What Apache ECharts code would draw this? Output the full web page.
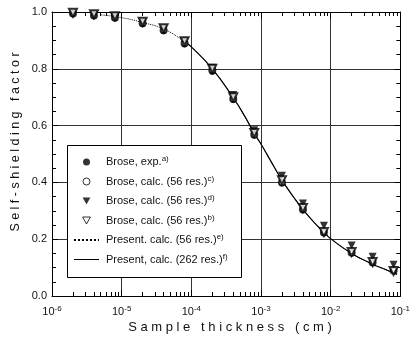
<!DOCTYPE html>
<html>
<head>
<meta charset="utf-8">
<script src="https://cdn.jsdelivr.net/npm/echarts@6/dist/echarts.min.js"></script>
<style>
  html, body { margin: 0; padding: 0; background: #fff; }
  #chart { width: 413px; height: 349px; }
</style>
</head>
<body>
<div id="chart"></div>
<script>
// sample thickness (cm) of the Brose points
var thickness = [2e-6, 4e-6, 8e-6, 2e-5, 4e-5, 8e-5, 2e-4, 4e-4, 8e-4, 2e-3, 4e-3, 8e-3, 2e-2, 4e-2, 8e-2];
var broseExp   = [0.993, 0.986, 0.978, 0.957, 0.932, 0.886, 0.789, 0.690, 0.565, 0.396, 0.302, 0.222, 0.152, 0.116, 0.090];
var broseCalcC = [0.995, 0.988, 0.980, 0.960, 0.936, 0.890, 0.795, 0.694, 0.568, 0.400, 0.305, 0.224, 0.152, 0.118, 0.090];
var broseCalcD = [0.996, 0.990, 0.984, 0.965, 0.942, 0.898, 0.804, 0.708, 0.584, 0.423, 0.326, 0.247, 0.178, 0.138, 0.110];
var broseCalcB = [0.997, 0.992, 0.985, 0.966, 0.943, 0.897, 0.800, 0.700, 0.574, 0.408, 0.310, 0.225, 0.155, 0.120, 0.088];

// present calculation curves
var curveX56 = [5e-6, 1e-5, 2e-5, 4e-5, 8e-5, 1e-4, 2e-4, 4e-4, 6e-4, 8e-4, 1e-3, 1.5e-3, 2e-3, 3e-3, 4e-3, 6e-3, 8e-3, 1e-2, 2e-2, 4e-2, 6e-2, 9e-2];
var curve56  = [0.990, 0.980, 0.963, 0.940, 0.896, 0.877, 0.800, 0.698, 0.628, 0.572, 0.535, 0.460, 0.408, 0.345, 0.305, 0.255, 0.225, 0.202, 0.150, 0.112, 0.094, 0.076];
var curveX262 = [8e-5, 1e-4, 2e-4, 4e-4, 6e-4, 8e-4, 1e-3, 1.5e-3, 2e-3, 3e-3, 4e-3, 6e-3, 8e-3, 1e-2, 2e-2, 4e-2, 6e-2, 9e-2];
var curve262  = [0.896, 0.877, 0.800, 0.698, 0.628, 0.572, 0.535, 0.460, 0.408, 0.345, 0.305, 0.255, 0.225, 0.202, 0.150, 0.112, 0.094, 0.076];

var legendText = ['Brose, exp.', 'Brose, calc. (56 res.)', 'Brose, calc. (56 res.)', 'Brose, calc. (56 res.)',
                  'Present. calc. (56 res.)', 'Present, calc. (262 res.)'];
var legendNote = ['a)', 'c)', 'd)', 'b)', 'e)', 'f)'];

var minorX = [];
for (var e = -6; e < -1; e++) {
  for (var m = 2; m <= 9; m++) minorX.push(m * Math.pow(10, e));
}

var FONT = '"Liberation Sans", Arial, sans-serif';
var DOWN_TRI = 'path://M0,0L10,0L5,9Z';
var names = legendText.map(function (t, i) { return t + ' ' + legendNote[i]; });

function pairs(xs, ys) {
  return xs.map(function (x, i) { return [x, ys[i]]; });
}

function spaced(s) {
  return s.split('').join(' ');
}

var chart = echarts.init(document.getElementById('chart'));

var baseX = {
  type: 'log', logBase: 10, min: 1e-6, max: 1e-1, splitNumber: 5,
  gridIndex: 0
};

var noDot = { color: 'rgba(0,0,0,0)', borderColor: 'rgba(0,0,0,0)', borderWidth: 0 };
var hollow = { color: '#fff', borderColor: '#000', borderWidth: 1 };

chart.setOption({
  animation: false,
  textStyle: { fontFamily: FONT },
  grid: { left: 52, right: 6, top: 12, bottom: 53 },
  xAxis: [
    Object.assign({}, baseX, {
      position: 'bottom',
      axisLine: { lineStyle: { color: '#000', width: 1 } },
      axisTick: { inside: true, length: 6, lineStyle: { color: '#000' } },
      splitLine: { show: true, lineStyle: { color: '#333', width: 1 } },
      axisLabel: {
        margin: 9,
        color: '#111',
        formatter: function (v) {
          return '{b|10}{s|' + Math.round(Math.log10(v)) + '}';
        },
        rich: {
          b: { fontSize: 11, fontFamily: FONT, color: '#111' },
          s: { fontSize: 8, fontFamily: FONT, color: '#111', padding: [0, 0, 6, 0] }
        }
      }
    }),
    Object.assign({}, baseX, {
      position: 'bottom',
      axisLine: { show: false },
      axisTick: { inside: true, length: 4, customValues: minorX, lineStyle: { color: '#000' } },
      axisLabel: { show: false },
      splitLine: { show: false }
    }),
    Object.assign({}, baseX, {
      position: 'top',
      axisLine: { lineStyle: { color: '#000', width: 1 } },
      axisTick: { inside: true, length: 6, lineStyle: { color: '#000' } },
      axisLabel: { show: false },
      splitLine: { show: false }
    }),
    Object.assign({}, baseX, {
      position: 'top',
      axisLine: { show: false },
      axisTick: { inside: true, length: 4, customValues: minorX, lineStyle: { color: '#000' } },
      axisLabel: { show: false },
      splitLine: { show: false }
    })
  ],
  yAxis: [
    {
      type: 'value', min: 0, max: 1, interval: 0.2, position: 'left',
      axisLine: { show: true, lineStyle: { color: '#000', width: 1 } },
      axisTick: { inside: true, length: 6, lineStyle: { color: '#000' } },
      minorTick: { show: true, splitNumber: 4, length: 4, lineStyle: { color: '#000' } },
      splitLine: { show: true, lineStyle: { color: '#333', width: 1 } },
      axisLabel: {
        margin: 5, fontSize: 11, color: '#111',
        formatter: function (v) { return v.toFixed(1); }
      }
    },
    {
      type: 'value', min: 0, max: 1, interval: 0.2, position: 'right',
      axisLine: { show: true, lineStyle: { color: '#000', width: 1 } },
      axisTick: { inside: true, length: 6, lineStyle: { color: '#000' } },
      minorTick: { show: true, splitNumber: 4, length: 4, lineStyle: { color: '#000' } },
      splitLine: { show: false },
      axisLabel: { show: false }
    }
  ],
  legend: {
    orient: 'vertical',
    left: 73,
    top: 155,
    padding: 0,
    itemWidth: 25,
    itemHeight: 7,
    itemGap: 7,
    symbolKeepAspect: true,
    symbolRotate: 0,
    z: 10,
    data: [
      { name: names[0], icon: 'circle' },
      { name: names[1], icon: 'circle', itemStyle: hollow },
      { name: names[2], icon: DOWN_TRI, itemStyle: { color: '#000' } },
      { name: names[3], icon: DOWN_TRI, itemStyle: hollow },
      { name: names[4], itemStyle: noDot },
      { name: names[5], itemStyle: noDot, lineStyle: { width: 1, color: '#000', type: 'solid' } }
    ],
    formatter: function (name) {
      var i = names.indexOf(name);
      return '{t|' + legendText[i] + '}{s|' + legendNote[i] + '}';
    },
    textStyle: {
      rich: {
        t: { fontSize: 11, fontFamily: FONT, color: '#111', lineHeight: 14, padding: [0, 0, 0, 2] },
        s: { fontSize: 8, fontFamily: FONT, color: '#111', padding: [0, 0, 6, 0] }
      }
    }
  },
  graphic: [
    {
      type: 'rect', z: 5,
      shape: { x: 67.5, y: 145.5, width: 174, height: 132 },
      style: { fill: '#fff', stroke: '#000', lineWidth: 1 }
    },
    {
      type: 'text', x: 16, y: 142, rotation: Math.PI / 2,
      style: {
        text: spaced('Self-shielding factor'), fontSize: 12.5, fontFamily: FONT, fill: '#111',
        align: 'center', verticalAlign: 'middle'
      }
    },
    {
      type: 'text', x: 230, y: 327,
      style: {
        text: spaced('Sample thickness (cm)'), fontSize: 13, fontFamily: FONT, fill: '#111',
        align: 'center', verticalAlign: 'middle'
      }
    }
  ],
  series: [
    {
      name: names[4], type: 'line', smooth: true, symbol: 'none', z: 2,
      data: pairs(curveX56, curve56),
      lineStyle: { color: '#000', width: 1, type: 'dotted' },
      itemStyle: { color: '#000' }
    },
    {
      name: names[5], type: 'line', smooth: true, symbol: 'none', z: 2,
      data: pairs(curveX262, curve262),
      lineStyle: { color: '#000', width: 1.2 },
      itemStyle: { color: '#000' }
    },
    {
      name: names[0], type: 'scatter', symbol: 'circle', symbolSize: 6, z: 3,
      data: pairs(thickness, broseExp),
      itemStyle: { color: '#000' }
    },
    {
      name: names[1], type: 'scatter', symbol: 'emptyCircle', symbolSize: 6, z: 3,
      data: pairs(thickness, broseCalcC),
      itemStyle: { color: '#000', borderWidth: 1 }
    },
    {
      name: names[2], type: 'scatter', symbol: 'triangle', symbolRotate: 180, symbolSize: 8, z: 3,
      data: pairs(thickness, broseCalcD),
      itemStyle: { color: '#000' }
    },
    {
      name: names[3], type: 'scatter', symbol: 'emptyTriangle', symbolRotate: 180, symbolSize: 8, z: 3,
      data: pairs(thickness, broseCalcB),
      itemStyle: { color: '#000', borderWidth: 1 }
    }
  ]
});
</script>
</body>
</html>
